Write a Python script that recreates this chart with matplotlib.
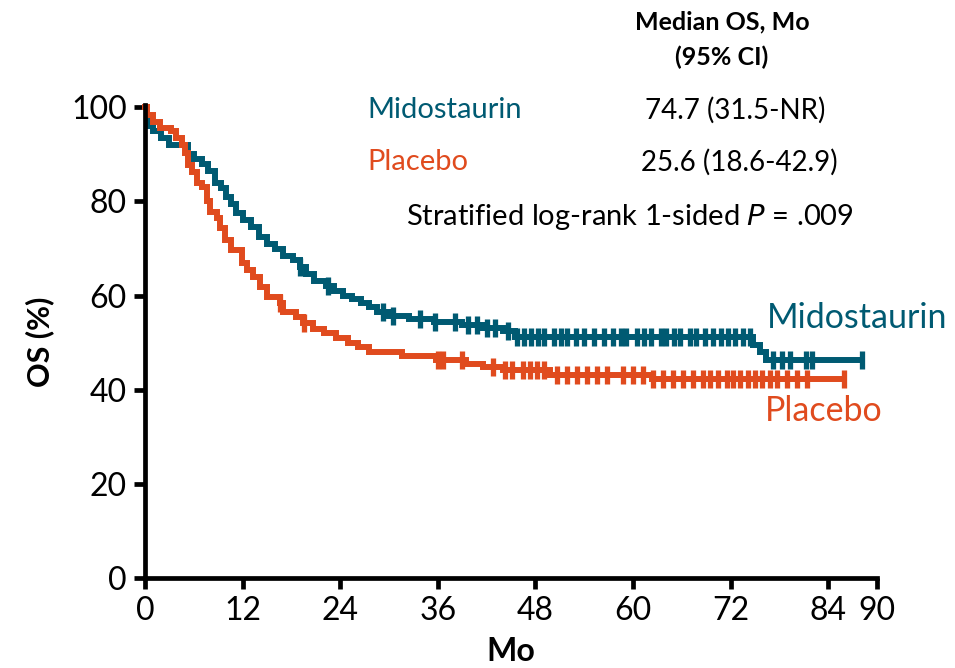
import numpy as np
import matplotlib
matplotlib.use("Agg")
import matplotlib.pyplot as plt

plt.rcParams['font.family'] = ['Lato', 'DejaVu Sans']

# Kaplan-Meier steps (months, OS %)
mido_t = [0, 0.2, 0.6, 1.0, 2.0, 3.0, 5.3, 6.0, 7.0, 7.8, 8.6, 9.4, 10.0, 10.6, 11.2, 12.0,
          13.0, 14.0, 15.0, 16.0, 17.0, 18.2, 19.0, 19.8, 20.8, 22.3, 23.2, 24.3, 25.5, 26.5,
          27.5, 28.5, 30.0, 32.5, 35.5, 39.0, 41.5, 44.0, 45.5, 74.8, 75.6, 76.4]
mido_s = [100, 97.5, 96, 95, 93.5, 92, 90, 89, 88, 86.5, 84, 82.8, 81, 79.5, 77.5, 76,
          74.5, 72.5, 71, 69.8, 68.5, 67.5, 66, 64.5, 63, 62, 61, 60, 59.2, 58.5,
          57.5, 56.5, 55.6, 55, 54.3, 53.8, 53.2, 52.5, 51.2, 49.5, 48, 46.3]
mido_end = 88.2
mido_cens = [19.0, 22.5, 29.3, 30.5, 33.8, 35.7, 38.1, 39.7, 40.8, 42.1, 43.0, 44.6, 45.7,
             46.6, 47.5, 48.3, 49.1, 50.3, 51.1, 51.9, 53.0, 54.0, 55.2, 56.4, 57.6, 58.5,
             59.2, 60.5, 61.3, 62.2, 63.4, 64.1, 65.0, 65.8, 67.0, 67.8, 68.8, 69.8, 70.8,
             71.7, 72.6, 73.5, 74.4, 77.2, 78.3, 79.3, 81.3, 82.0, 88.2]

plac_t = [0, 0.3, 1.0, 1.8, 3.2, 3.8, 4.5, 4.9, 5.3, 5.8, 6.4, 7.0, 7.6, 8.0, 8.8, 9.2, 9.8,
          10.6, 11.9, 12.6, 13.3, 14.1, 15.0, 16.6, 17.0, 18.6, 19.4, 20.6, 22.0, 23.5, 25.0,
          26.2, 27.5, 31.6, 35.8, 39.5, 41.5, 44.0, 49.8, 62.3]
plac_s = [100, 98.3, 96.8, 95.7, 95, 93.4, 91.9, 90.4, 87.7, 86.2, 84, 83, 80, 77.7, 76.4,
          74.3, 71.8, 69.6, 67, 65.4, 63.9, 61.8, 59.7, 58.5, 56.5, 55.4, 54.1, 53, 52, 51,
          50, 49, 48, 47.2, 46.4, 45.5, 44.8, 44.2, 43.2, 42.2]
plac_end = 86.0
plac_cens = [16.6, 19.5, 36.0, 36.6, 39.0, 42.8, 44.3, 45.1, 46.5, 47.3, 48.2, 49.0, 50.7,
             51.9, 53.1, 54.3, 55.6, 56.8, 58.8, 60.0, 61.2, 62.5, 63.7, 64.9, 66.1, 67.4,
             68.6, 69.5, 70.4, 71.6, 72.3, 73.2, 74.2, 75.0, 75.9, 76.8, 77.7, 78.9, 80.2,
             81.4, 86.0]

teal = '#005a72'
orange = '#e04b1e'

fig = plt.figure(figsize=(9.55, 6.68), dpi=100)
ax = fig.add_axes([145 / 955, 1 - 578 / 668, (877 - 145) / 955, (578 - 105) / 668])


def km(t, s, end, cens, color):
    tt = list(t) + [end]
    ss = list(s) + [s[-1]]
    ax.plot(tt, ss, drawstyle='steps-post', color=color, lw=4.3, clip_on=False,
            solid_joinstyle='miter')
    t_arr = np.array(t)
    idx = np.searchsorted(t_arr, cens, side='right') - 1
    ax.plot(cens, np.array(s)[idx], ls='none', marker='|', ms=12.5, mew=3.8,
            color=color, clip_on=False)


km(mido_t, mido_s, mido_end, mido_cens, teal)
km(plac_t, plac_s, plac_end, plac_cens, orange)

ax.set_xlim(0, 90)
ax.set_ylim(0, 100.5)
ax.set_xticks([0, 12, 24, 36, 48, 60, 72, 84, 90])
ax.set_yticks([0, 20, 40, 60, 80, 100])
for side in ['top', 'right']:
    ax.spines[side].set_visible(False)
for side in ['left', 'bottom']:
    ax.spines[side].set_linewidth(3.4)
ax.tick_params(width=3.4, length=8, labelsize=23, pad=5)
ax.set_xlabel('Mo', fontsize=23, fontweight='bold', labelpad=8)
ax.set_ylabel('OS (%)', fontsize=22, fontweight='bold', labelpad=12)


def ft(x, y, s, **kw):
    fig.text(x / 955, 1 - y / 668, s, va='center', **kw)


ft(722, 22, 'Median OS, Mo', ha='center', fontsize=18, fontweight='bold')
ft(722, 57, '(95% CI)', ha='center', fontsize=18, fontweight='bold')
ft(367, 110, 'Midostaurin', color=teal, fontsize=21)
ft(735, 110, '74.7 (31.5-NR)', ha='center', fontsize=20)
ft(367, 162, 'Placebo', color=orange, fontsize=21)
ft(739, 162, '25.6 (18.6-42.9)', ha='center', fontsize=20)
ft(630, 217, 'Stratified log-rank 1-sided $\\it{P}$ = .009', ha='center', fontsize=21)
ft(767, 318, 'Midostaurin', color=teal, fontsize=24.5)
ft(765, 411, 'Placebo', color=orange, fontsize=24.5)

fig.savefig('out.png', dpi=100)
